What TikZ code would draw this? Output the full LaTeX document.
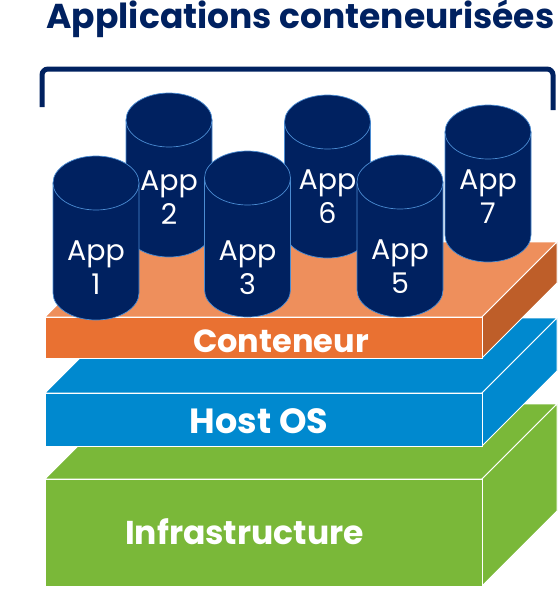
\documentclass[tikz,border=0pt]{standalone}
\usepackage{fontspec}
\setmainfont{Poppins}
\usetikzlibrary{positioning}

\definecolor{navy}{RGB}{0,33,96}
\definecolor{rim}{RGB}{75,140,210}
\definecolor{orfront}{RGB}{233,113,50}
\definecolor{ortop}{RGB}{238,143,92}
\definecolor{orside}{RGB}{190,94,41}
\definecolor{bluefront}{RGB}{0,137,207}
\definecolor{greenfront}{RGB}{122,184,57}

% cylinder: centre x, top centre y, bottom centre y
\newcommand{\appcyl}[3]{%
  \filldraw[cylbody] (#1-43,#2) -- (#1-43,#3) arc[start angle=180, end angle=360, x radius=43pt, y radius=27pt] -- (#1+43,#2) -- cycle;
  \filldraw[cylbody] (#1,#2) ellipse[x radius=43pt, y radius=27pt];
}

% layer box: front, top, side colour, top y, bottom y
\newcommand{\layerbox}[5]{%
  \filldraw[fill=#2, layeredge] (45,#4) -- (482,#4) -- (557,#4-75) -- (120,#4-75) -- cycle;
  \filldraw[fill=#3, layeredge] (482,#4) -- (557,#4-75) -- (557,#5-75) -- (482,#5) -- cycle;
  \filldraw[fill=#1, layeredge] (45,#4) rectangle (482,#5);
}

\begin{document}
\begin{tikzpicture}[x=1pt, y=-1pt,
    cylbody/.style={fill=navy, draw=rim, line width=0.7pt},
    layeredge/.style={draw=white, line width=0.9pt},
    applabel/.style={text=white, align=center, inner sep=0pt, font=\fontsize{28.5}{34}\selectfont},
    layerlabel/.style={text=white, anchor=base, inner sep=0pt},
    titlelabel/.style={text=navy, anchor=base, inner sep=0pt, font=\bfseries\fontsize{34.5}{34.5}\selectfont}]

    \useasboundingbox (0,0) rectangle (558,589);

    % Title and bracket
    \node[titlelabel] (title) at (300.5,28) {Applications conteneurisées};
    \draw[navy, line width=5pt, rounded corners=6pt] (42,107) -- (42,69) -- (553,69) -- (553,110);

    % Layers, bottom up
    \layerbox{greenfront}{greenfront}{greenfront}{479}{586}
    \layerbox{bluefront}{bluefront}{bluefront}{393}{446}
    \layerbox{orfront}{ortop}{orside}{317}{358}

    \node[layerlabel, font=\bfseries\fontsize{33}{33}\selectfont] (infra) at (244.5,544) {Infrastructure};
    \node[layerlabel, font=\bfseries\fontsize{35}{35}\selectfont] (hostos) at (259,433) {Host OS};
    \node[layerlabel, font=\bfseries\fontsize{32}{32}\selectfont] (conteneur) at (281,352) {Conteneur};

    % Containers, back row first
    \appcyl{169}{120}{230}
    \appcyl{327.5}{122}{231}
    \appcyl{488}{132}{235}
    \appcyl{96}{183}{293}
    \appcyl{247.5}{178}{290}
    \appcyl{400}{182}{290}

    \node[applabel] (app2) at (169,198) {App\\2};
    \node[applabel] (app6) at (327.5,196.5) {App\\6};
    \node[applabel] (app7) at (488,196.5) {App\\7};
    \node[applabel] (app1) at (96,268) {App\\1};
    \node[applabel] (app3) at (247.5,268) {App\\3};
    \node[applabel] (app5) at (400,266.5) {App\\5};

\end{tikzpicture}
\end{document}
